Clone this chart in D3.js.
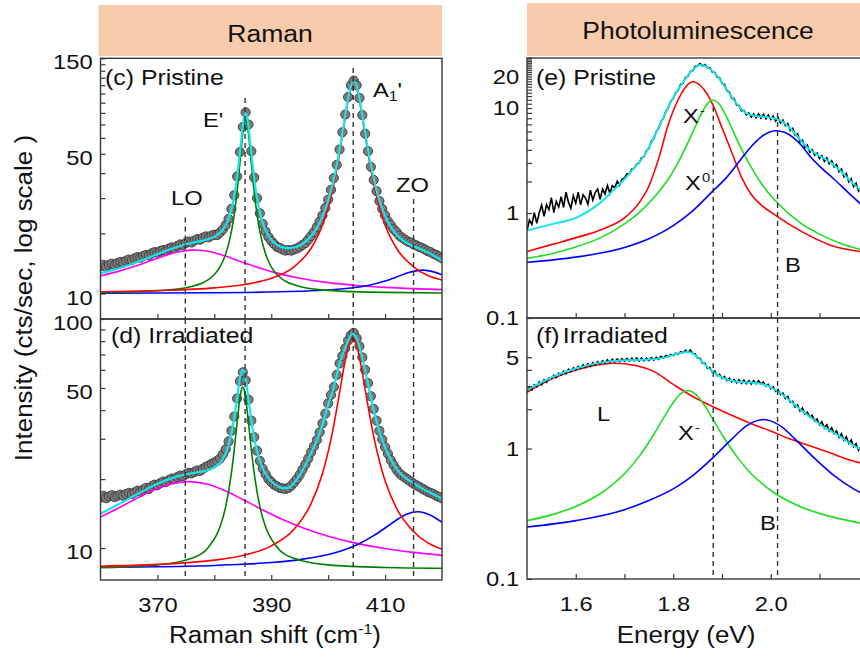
<!DOCTYPE html>
<html>
<head>
<meta charset="utf-8">
<title>Raman and photoluminescence spectra</title>
<script src="https://cdn.jsdelivr.net/npm/d3@7"></script>
<style>
  body { margin: 0; background: #fff; }
  svg { display: block; font-family: "Liberation Sans", Arial, Helvetica, sans-serif; }
</style>
</head>
<body>
<svg id="chart" width="860" height="659"></svg>
<script>
// ---------- Raman (cts/sec vs cm-1) ----------
const ramanShift = d3.range(360, 420.25, 0.5);

const ramanPristine = [
  13.7, 13.9, 13.6, 13.9, 14.1, 13.9, 14.2, 14.4, 14.3, 14.6,
  14.8, 14.7, 15.0, 15.2, 15.1, 15.4, 15.6, 15.5, 15.9, 16.1,
  16.0, 16.3, 16.5, 16.4, 16.8, 17.0, 16.9, 17.3, 17.6, 17.5,
  17.9, 18.2, 18.0, 18.4, 18.7, 18.6, 19.0, 19.3, 19.1, 19.5,
  19.7, 19.6, 20.2, 20.9, 22.0, 23.6, 26.5, 31.0, 38.5, 51.0,
  68.0, 80.5, 70.0, 51.5, 38.0, 30.0, 25.2, 22.3, 20.4, 19.2,
  18.3, 17.7, 17.1, 16.9, 16.6, 16.4, 16.5, 16.4, 16.6, 16.8,
  17.1, 17.5, 17.9, 18.6, 19.4, 20.3, 21.5, 22.9, 24.6, 26.8,
  29.5, 33.0, 37.8, 44.0, 52.5, 64.0, 78.5, 96.0, 110.0, 116.0,
  110.0, 95.0, 78.0, 63.0, 51.5, 43.0, 37.0, 32.5, 29.0, 26.5,
  24.6, 23.0, 22.0, 21.0, 20.3, 19.5, 19.0, 18.6, 18.2, 18.0,
  17.6, 17.4, 17.1, 16.9, 16.6, 16.3, 16.1, 15.8, 15.6, 15.3,
  15.0
];

const ramanIrradiated = [
  16.6, 16.9, 16.5, 16.8, 17.0, 16.7, 16.9, 17.1, 16.9, 17.2,
  17.4, 17.2, 17.5, 17.8, 17.6, 18.0, 18.3, 18.1, 18.6, 18.9,
  18.8, 19.2, 19.5, 19.4, 19.8, 20.1, 20.0, 20.4, 20.7, 20.6,
  21.0, 21.3, 21.2, 21.5, 21.8, 21.7, 22.2, 22.6, 22.9, 23.3,
  23.6, 24.0, 24.6, 25.6, 27.0, 29.2, 32.5, 37.5, 45.0, 53.5,
  58.5, 54.0, 44.5, 36.0, 30.5, 26.6, 24.0, 22.2, 21.0, 20.0,
  19.4, 18.9, 18.6, 18.3, 18.2, 18.1, 18.3, 18.7, 19.3, 20.0,
  20.9, 22.0, 23.2, 24.6, 26.2, 27.8, 29.6, 32.0, 35.0, 38.6,
  42.8, 46.6, 50.5, 57.0, 64.0, 69.0, 74.5, 80.5, 85.0, 87.0,
  82.5, 76.0, 68.0, 60.0, 52.5, 46.0, 40.5, 36.0, 32.5, 29.8,
  27.6, 25.8, 24.2, 23.0, 22.0, 21.2, 20.7, 20.3, 19.9, 19.5,
  19.1, 18.8, 18.5, 18.2, 17.9, 17.6, 17.4, 17.2, 16.9, 16.7,
  16.5
];

// fitted components, pristine
const pristineLO = [[360,12.25],[363,12.87],[366,13.68],[369,14.67],[372,15.7],[374,16.23],[376,16.49],[376.5,16.5],[378,16.4],[380,15.99],[383,15.03],[386,14.0],[390,12.87],[395,11.92],[400,11.34],[405,10.98],[410,10.74],[415,10.58],[420,10.46]];
const pristineE = [[360,10.12],[370,10.32],[376,10.85],[380,12.46],[381,13.61],[382,15.75],[383,20.38],[383.5,24.86],[384,32.38],[384.5,45.04],[385,63.04],[385.25,70.86],[385.5,74.0],[385.75,70.86],[386,63.04],[386.5,45.04],[387,32.38],[387.5,24.86],[388,20.38],[389,15.75],[390,13.61],[391,12.46],[395,10.85],[400,10.37],[410,10.13],[420,10.07]];
const pristineA1 = [[360,10.21],[370,10.35],[380,10.68],[385,11.07],[390,11.92],[394,13.61],[397,16.84],[399,22.03],[400,26.99],[401,35.35],[402,50.2],[402.5,61.5],[403,75.92],[403.5,92.4],[404,106.94],[404.25,111.4],[404.5,113.0],[404.75,111.4],[405,106.94],[405.5,92.4],[406,75.92],[406.5,61.5],[407,50.2],[408,35.35],[409,26.99],[410,22.03],[412,16.84],[415,13.61],[420,11.69]];
const pristineZO = [[360,10.04],[380,10.09],[395,10.26],[400,10.41],[404,10.66],[407,10.98],[410,11.55],[412,12.09],[414,12.7],[416.5,13.1],[418,12.94],[420,12.4]];
const pristineFit = [[360,12.62],[362,13.05],[364,13.58],[366,14.21],[368,14.94],[370,15.74],[372,16.56],[374,17.3],[376,17.9],[378,18.39],[379,18.72],[380,19.23],[381,20.15],[382,22.04],[382.5,23.74],[383,26.4],[383.5,30.75],[384,38.14],[384.5,50.68],[385,68.57],[385.25,76.3],[385.5,79.4],[385.75,76.2],[386,68.36],[386.5,50.26],[387,37.54],[387.5,29.94],[388,25.43],[388.5,22.57],[389,20.74],[390,18.58],[391,17.52],[392,17.01],[393,16.85],[394,16.99],[395,17.4],[396,18.17],[397,19.4],[398,21.28],[399,24.26],[400,29.12],[400.5,32.68],[401,37.4],[401.5,43.7],[402,52.18],[402.5,63.46],[403,77.86],[403.5,94.32],[404,108.86],[404.25,113.3],[404.5,114.9],[404.75,113.3],[405,108.8],[405.5,94.27],[406,77.88],[406.5,63.48],[407,52.21],[407.5,43.73],[408,37.46],[408.5,32.76],[409,29.23],[410,24.43],[411,21.53],[412,19.72],[413,18.56],[414,17.8],[416,16.78],[418,15.79],[420,14.62]];

// fitted components, irradiated
const irradLO = [[360,13.68],[363,14.89],[366,16.29],[369,17.73],[372,18.92],[375.5,19.5],[379,18.92],[382,17.73],[385,16.29],[388,14.89],[392,13.32],[396,12.13],[400,11.26],[405,10.48],[410,9.95],[415,9.57],[420,9.29]];
const irradE = [[360,8.22],[370,8.44],[376,9.02],[379,10.11],[381,12.38],[382,15.15],[383,21.23],[383.5,26.9],[384,35.29],[384.5,45.24],[384.75,48.98],[385,50.4],[385.25,48.98],[385.5,45.24],[386,35.29],[386.5,26.9],[387,21.23],[388,15.15],[389,12.38],[391,10.11],[394,9.02],[400,8.44],[410,8.22],[420,8.16]];
const irradA1 = [[360,8.33],[370,8.48],[380,8.85],[385,9.28],[390,10.22],[394,12.08],[397,15.62],[399,21.17],[400,26.3],[401,34.49],[402,47.59],[403,66.07],[403.5,75.24],[404,81.3],[404.3,82.4],[404.6,81.3],[405,76.79],[405.5,68.02],[406,58.25],[407,41.64],[408,30.74],[409,23.97],[410,19.68],[412,14.93],[415,11.8],[420,9.87]];
const irradZO = [[360,8.22],[370,8.28],[380,8.39],[385,8.49],[390,8.64],[395,8.9],[400,9.37],[403,9.85],[405,10.31],[408,11.32],[410,12.23],[412,13.26],[414,14.12],[415.7,14.4],[417,14.23],[418,13.9],[419,13.46],[420,12.95]];
const irradFit = [[360,14.15],[362,14.98],[364,15.93],[366,16.96],[368,18.03],[370,19.07],[372,19.99],[374,20.71],[376,21.2],[378,21.6],[379,21.9],[380,22.46],[381,23.57],[381.5,24.53],[382,26.0],[382.5,28.22],[383,31.7],[383.5,37.18],[384,45.39],[384.5,55.15],[385,60.15],[385.5,54.83],[386,44.71],[386.5,36.16],[387,30.36],[387.5,26.54],[388,24.04],[388.5,22.28],[389,21.09],[390,19.56],[391,18.71],[392,18.27],[393,18.3],[394,19.2],[395,20.8],[396,23.1],[397,26.0],[398,29.4],[399,34.6],[400,42.3],[401,50.5],[401.5,57.0],[402,64.0],[402.5,69.5],[403,75.0],[403.5,80.5],[404,85.0],[404.3,86.6],[404.6,85.5],[405,82.5],[405.5,75.5],[406,67.5],[406.5,59.5],[407,52.0],[407.5,45.5],[408,40.0],[408.5,35.8],[409,32.3],[410,27.5],[411,24.4],[412,22.2],[413,20.8],[414,19.9],[415,19.2],[416,18.5],[417,17.9],[418,17.4],[419,16.9],[420,16.4]];

const ramanPeaks = [374.9, 385.4, 404.4, 415.0];       // LO, E', A1', ZO
const ramanPeakTops = [24, 95, 134, 29.7];              // where the dashes start in (c)

// ---------- Photoluminescence (cts/sec vs eV) ----------
const plEnergy = d3.range(1.5, 2.2025, 0.005);

const plPristine = [
  0.68, 0.86, 0.78, 1.01, 0.80, 1.00, 1.19, 0.93, 1.20, 1.08,
  1.40, 1.01, 1.29, 1.14, 1.43, 1.13, 1.58, 1.27, 1.11, 1.46,
  1.24, 1.58, 1.20, 1.49, 1.39, 1.21, 1.65, 1.33, 1.57, 1.70,
  1.35, 1.69, 1.52, 1.83, 1.54, 1.82, 1.74, 2.01, 1.84, 2.10,
  2.16, 2.36, 2.36, 2.62, 2.66, 2.92, 3.00, 3.36, 3.44, 3.92,
  4.12, 4.80, 5.10, 5.95, 6.40, 7.45, 8.05, 9.40, 10.1, 11.7,
  12.3, 14.1, 14.7, 16.8, 17.2, 19.5, 20.0, 22.3, 22.8, 25.0,
  25.2, 26.5, 25.2, 26.0, 24.1, 24.3, 22.1, 21.9, 19.7, 19.5,
  17.2, 16.8, 14.6, 14.3, 12.4, 12.3, 10.7, 10.6, 9.4, 9.5,
  8.6, 9.0, 8.2, 8.8, 8.1, 8.8, 8.0, 8.7, 7.9, 8.6,
  7.8, 8.4, 7.5, 8.1, 7.2, 7.7, 6.8, 7.1, 6.1, 6.4,
  5.5, 5.7, 4.75, 4.95, 4.2, 4.45, 3.8, 4.0, 3.55, 3.72,
  3.3, 3.52, 3.1, 3.35, 2.95, 3.15, 2.75, 2.9, 2.48, 2.62,
  2.22, 2.38, 1.98, 2.12, 1.78, 1.92, 1.62, 1.74, 1.45, 1.57,
  1.38
];

const plIrradiated = [
  2.70, 2.96, 2.82, 3.08, 2.96, 3.24, 3.08, 3.36, 3.22, 3.48,
  3.44, 3.64, 3.50, 3.78, 3.66, 3.92, 3.74, 4.04, 3.88, 4.16,
  3.98, 4.26, 4.10, 4.38, 4.18, 4.46, 4.26, 4.54, 4.36, 4.62,
  4.44, 4.70, 4.50, 4.78, 4.56, 4.82, 4.60, 4.86, 4.64, 4.88,
  4.66, 4.90, 4.68, 4.92, 4.70, 4.93, 4.68, 4.94, 4.70, 4.92,
  4.72, 4.96, 4.76, 5.00, 4.82, 5.08, 4.92, 5.16, 5.04, 5.26,
  5.16, 5.38, 5.28, 5.52, 5.42, 5.66, 5.46, 5.68, 5.34, 5.32,
  4.92, 4.92, 4.50, 4.52, 4.12, 4.18, 3.84, 3.92, 3.62, 3.70,
  3.44, 3.56, 3.32, 3.46, 3.24, 3.38, 3.18, 3.36, 3.16, 3.34,
  3.14, 3.32, 3.12, 3.32, 3.14, 3.30, 3.12, 3.22, 3.02, 3.10,
  2.88, 2.98, 2.74, 2.82, 2.60, 2.66, 2.42, 2.50, 2.26, 2.30,
  2.08, 2.16, 1.94, 2.04, 1.84, 1.90, 1.74, 1.80, 1.62, 1.68,
  1.52, 1.60, 1.44, 1.52, 1.36, 1.44, 1.30, 1.36, 1.22, 1.30,
  1.16, 1.23, 1.09, 1.16, 1.03, 1.09, 0.97, 1.03, 0.92, 0.99,
  0.90
];

const plPristineTrion = [[1.5,0.43],[1.55,0.5],[1.6,0.58],[1.65,0.69],[1.7,0.9],[1.73,1.25],[1.75,1.8],[1.77,3.3],[1.79,7.0],[1.81,12.0],[1.825,15.8],[1.84,17.8],[1.855,16.5],[1.87,13.5],[1.885,9.8],[1.9,6.5],[1.92,3.8],[1.94,2.2],[1.96,1.5],[1.98,1.2],[2.01,0.95],[2.06,0.68],[2.12,0.5],[2.2,0.42]];
const plPristineExciton = [[1.5,0.37],[1.55,0.41],[1.6,0.475],[1.65,0.58],[1.7,0.79],[1.73,1.01],[1.76,1.4],[1.79,2.11],[1.815,3.36],[1.84,5.87],[1.86,9.28],[1.872,11.26],[1.882,11.94],[1.895,10.84],[1.91,8.15],[1.925,5.72],[1.94,4.06],[1.965,2.48],[1.99,1.67],[2.01,1.3],[2.06,0.81],[2.1,0.63],[2.14,0.52],[2.2,0.43]];
const plPristineB = [[1.5,0.34],[1.6,0.38],[1.7,0.47],[1.75,0.57],[1.8,0.76],[1.84,1.05],[1.88,1.6],[1.91,2.2],[1.94,3.3],[1.96,4.3],[1.98,5.3],[2.012,6.08],[2.045,5.3],[2.065,4.3],[2.08,3.5],[2.1,2.8],[2.13,2.1],[2.16,1.55],[2.2,1.05]];
const plPristineFit = [[1.5,0.68],[1.55,0.78],[1.6,0.9],[1.65,1.25],[1.68,1.7],[1.7,2.1],[1.72,2.7],[1.74,3.5],[1.76,5.2],[1.78,8.2],[1.8,12.6],[1.82,17.6],[1.84,23.2],[1.855,25.8],[1.87,24.6],[1.89,20.2],[1.91,15.0],[1.93,11.0],[1.95,8.9],[1.97,8.4],[2.0,8.1],[2.02,7.6],[2.04,6.4],[2.06,5.0],[2.08,4.0],[2.1,3.5],[2.12,3.1],[2.14,2.6],[2.16,2.1],[2.18,1.72],[2.2,1.4]];

const plIrradL = [[1.5,2.7],[1.55,3.4],[1.6,4.0],[1.65,4.4],[1.68,4.5],[1.72,4.35],[1.76,3.9],[1.8,3.1],[1.84,2.5],[1.88,2.1],[1.92,1.8],[1.96,1.55],[2.0,1.36],[2.04,1.18],[2.08,1.05],[2.12,0.93],[2.16,0.82],[2.2,0.75]];
const plIrradTrion = [[1.5,0.28],[1.55,0.31],[1.6,0.36],[1.65,0.45],[1.7,0.64],[1.73,0.87],[1.76,1.28],[1.78,1.71],[1.8,2.25],[1.815,2.62],[1.83,2.78],[1.845,2.62],[1.86,2.25],[1.88,1.71],[1.9,1.28],[1.93,0.87],[1.96,0.64],[2.01,0.45],[2.06,0.36],[2.11,0.31],[2.16,0.28],[2.2,0.26]];
const plIrradB = [[1.5,0.25],[1.6,0.28],[1.7,0.34],[1.75,0.4],[1.8,0.49],[1.84,0.62],[1.88,0.84],[1.92,1.18],[1.95,1.49],[1.985,1.67],[2.02,1.49],[2.05,1.18],[2.09,0.84],[2.13,0.62],[2.17,0.49],[2.2,0.43]];
const plIrradFit = [[1.5,2.8],[1.55,3.5],[1.6,4.1],[1.65,4.55],[1.7,4.75],[1.75,4.8],[1.78,4.95],[1.81,5.35],[1.83,5.5],[1.845,5.2],[1.86,4.6],[1.88,3.9],[1.9,3.5],[1.93,3.25],[1.96,3.2],[1.99,3.05],[2.02,2.65],[2.05,2.15],[2.08,1.75],[2.11,1.45],[2.14,1.25],[2.17,1.05],[2.2,0.93]];

const plPeaks = [1.882, 2.014];
const plPeakTops = [10.3, 9.0];

// ---------- drawing ----------
const svg = d3.select("#chart");
const FONT = '"Liberation Sans", Arial, Helvetica, sans-serif';
const SX = 1.13;            // the figure's lettering is a bit wider than Arial
const INK = "#111";
const AXIS = "#383838";
const HEADER = "#F8CBAD";

const ramanX = d3.scaleLinear().domain([360, 420]).range([100.5, 442]);
const plX = d3.scaleLinear().domain([1.5, 2.2]).range([527, 868.25]);
const yC = d3.scaleLog().domain([7.46, 150]).range([319, 58.3]);
const yD = d3.scaleLog().domain([7.25, 100]).range([580, 319]);
const yE = d3.scaleLog().domain([0.1, 30]).range([318, 58]);
const yF = d3.scaleLog().domain([0.1, 10]).range([579, 318]);

function text(g, x, y, size, anchor) {
  return g.append("text")
    .attr("transform", `translate(${x},${y}) scale(${SX},1)`)
    .attr("font-size", size)
    .attr("text-anchor", anchor || "start")
    .attr("fill", INK);
}

function plotArea(x, y, id) {
  const [x0, x1] = x.range();
  const [yb, yt] = y.range();
  svg.append("clipPath").attr("id", id)
    .append("rect").attr("x", x0).attr("y", yt).attr("width", x1 - x0).attr("height", yb - yt);
  return svg.append("g").attr("clip-path", `url(#${id})`);
}

function frame(x, y) {
  const [x0, x1] = x.range();
  const [yb, yt] = y.range();
  svg.append("rect").attr("x", x0).attr("y", yt).attr("width", x1 - x0).attr("height", yb - yt)
    .attr("fill", "none").attr("stroke", AXIS).attr("stroke-width", 1.4);
}

function leftAxis(x, y, ticks, shown, fmt, dy) {
  const g = svg.append("g").attr("transform", `translate(${x.range()[0]},0)`)
    .call(d3.axisLeft(y).tickValues(ticks).tickSize(-5).tickPadding(7)
      .tickFormat(d => shown.includes(d) ? fmt(d) : ""));
  g.attr("font-family", FONT);
  g.select(".domain").remove();
  g.selectAll(".tick line").attr("stroke", AXIS).attr("stroke-width", 1.2);
  g.selectAll(".tick text").attr("font-size", 21).attr("fill", INK)
    .attr("dy", dy).attr("transform", `scale(${SX},1)`);
}

function bottomAxis(x, y, ticks, shown, fmt) {
  const g = svg.append("g").attr("transform", `translate(0,${y.range()[0]})`)
    .call(d3.axisBottom(x).tickValues(ticks).tickSize(-5).tickPadding(17)
      .tickFormat(d => shown.includes(d) ? fmt(d) : ""));
  g.attr("font-family", FONT);
  g.select(".domain").remove();
  g.selectAll(".tick line").attr("stroke", AXIS).attr("stroke-width", 1.2);
  g.selectAll(".tick text").attr("font-size", 21).attr("fill", INK)
    .attr("transform", `scale(${SX},1)`);
}

function curve(g, x, y, pts, color, width) {
  const line = d3.line().x(d => x(d[0])).y(d => y(d[1])).curve(d3.curveMonotoneX);
  g.append("path").datum(pts).attr("d", line)
    .attr("fill", "none").attr("stroke", color).attr("stroke-width", width)
    .attr("stroke-linejoin", "round");
}

function dashes(g, x, y, xs, tops) {
  xs.forEach((v, i) => {
    g.append("line")
      .attr("x1", x(v)).attr("x2", x(v))
      .attr("y1", y(tops ? tops[i] : y.domain()[1])).attr("y2", y.range()[0])
      .attr("stroke", "#333").attr("stroke-width", 1.4).attr("stroke-dasharray", "5,4");
  });
}

// headers
svg.append("rect").attr("x", 98.5).attr("y", 5).attr("width", 343.5).attr("height", 51).attr("fill", HEADER);
svg.append("rect").attr("x", 527).attr("y", 3).attr("width", 340).attr("height", 53).attr("fill", HEADER);
text(svg, 270, 41.5, 23.5, "middle").text("Raman");
text(svg, 698, 38.5, 23.5, "middle").text("Photoluminescence");

// ---- Raman panels ----
const ramanColors = { LO: "#FF00FF", E: "#008000", A1: "#FF0000", ZO: "#0000FF", fit: "#19E3EC" };

function ramanPanel(y, counts, comps, fit, id, tops) {
  const g = plotArea(ramanX, y, id);
  g.selectAll("circle").data(ramanShift).join("circle")
    .attr("cx", d => ramanX(d)).attr("cy", (d, i) => y(counts[i])).attr("r", 4.6)
    .attr("fill", "#7b7b7b").attr("stroke", "#3a3a3a").attr("stroke-width", 0.9);
  curve(g, ramanX, y, comps[0], ramanColors.LO, 1.6);
  curve(g, ramanX, y, comps[3], ramanColors.ZO, 1.6);
  curve(g, ramanX, y, comps[1], ramanColors.E, 1.6);
  curve(g, ramanX, y, comps[2], ramanColors.A1, 1.6);
  curve(g, ramanX, y, fit, ramanColors.fit, 2.2);
  dashes(g, ramanX, y, ramanPeaks, tops);
}

ramanPanel(yC, ramanPristine, [pristineLO, pristineE, pristineA1, pristineZO], pristineFit, "clipC", ramanPeakTops);
ramanPanel(yD, ramanIrradiated, [irradLO, irradE, irradA1, irradZO], irradFit, "clipD", null);

const ramanTicks = [370, 380, 390, 400, 410];
bottomAxis(ramanX, yC, ramanTicks, [], String);
bottomAxis(ramanX, yD, ramanTicks, [370, 390, 410], String);
leftAxis(ramanX, yC, d3.range(10, 151, 10), [10, 50, 150], String, "0.5em");
leftAxis(ramanX, yD, d3.range(10, 101, 10), [10, 50, 100], String, "0.5em");
frame(ramanX, yC);
frame(ramanX, yD);

// ---- PL panels ----
const plColors = { trion: "#FF0000", exciton: "#1EE01E", B: "#0000FF", fit: "#19E3EC" };

function plPanel(y, counts, comps, colors, fit, id, tops) {
  const g = plotArea(plX, y, id);
  comps.forEach((c, i) => curve(g, plX, y, c, colors[i], 1.6));
  const line = d3.line().x(d => plX(d)).y((d, i) => y(counts[i]));
  g.append("path").datum(plEnergy).attr("d", line)
    .attr("fill", "none").attr("stroke", "#000").attr("stroke-width", 1.6);
  curve(g, plX, y, fit, plColors.fit, 2);
  dashes(g, plX, y, plPeaks, tops);
}

plPanel(yE, plPristine, [plPristineTrion, plPristineExciton, plPristineB],
  [plColors.trion, plColors.exciton, plColors.B], plPristineFit, "clipE", plPeakTops);
plPanel(yF, plIrradiated, [plIrradL, plIrradTrion, plIrradB],
  [plColors.trion, plColors.exciton, plColors.B], plIrradFit, "clipF", null);

const plTicks = [1.6, 1.7, 1.8, 1.9, 2.0, 2.1];
bottomAxis(plX, yE, plTicks, [], String);
bottomAxis(plX, yF, plTicks, [1.6, 1.8, 2.0], d3.format(".1f"));
leftAxis(plX, yE, [0.1].concat(d3.range(1, 31)), [0.1, 1, 10, 20], String, "0.32em");
leftAxis(plX, yF, [0.1, 1, 2, 3, 4, 5], [0.1, 1, 5], String, "0.32em");
frame(plX, yE);
frame(plX, yF);

// ---- labels ----
text(svg, 105, 85, 22).text("(c) Pristine");
text(svg, 111, 343, 22).text("(d) Irradiated");
text(svg, 203, 126.7, 21).text("E'");
const a1 = text(svg, 373, 96.7, 21);
a1.append("tspan").text("A");
a1.append("tspan").attr("font-size", 14).attr("dy", 4).text("1");
a1.append("tspan").attr("dy", -4).text("'");
text(svg, 171, 205, 21).text("LO");
text(svg, 396, 191.7, 21).text("ZO");

text(svg, 536, 85, 22).text("(e) Pristine");
const f = text(svg, 536, 343, 22);
f.append("tspan").text("(f)");
f.append("tspan").attr("dx", 3).text("Irradiated");
function exciton(x, y, sup) {
  const t = text(svg, x, y, 21);
  t.append("tspan").text("X");
  t.append("tspan").attr("font-size", 13).attr("dy", -8).attr("dx", 1).text(sup);
}
exciton(683, 123.3, "-");
exciton(685, 190, "0");
text(svg, 785, 271.7, 21).text("B");
text(svg, 597, 421, 21).text("L");
exciton(678, 440, "-");
text(svg, 760, 530, 21).text("B");

// axis titles
const xt = text(svg, 275, 643, 23, "middle");
xt.append("tspan").text("Raman shift (cm");
xt.append("tspan").attr("font-size", 14).attr("dy", -9).text("-1");
xt.append("tspan").attr("dy", 9).text(")");
text(svg, 686, 643, 23, "middle").text("Energy (eV)");
svg.append("text")
  .attr("transform", `translate(31.5,298) rotate(-90) scale(${SX},1)`)
  .attr("font-size", 23).attr("text-anchor", "middle").attr("fill", INK)
  .text("Intensity (cts/sec, log scale )");
</script>
</body>
</html>
